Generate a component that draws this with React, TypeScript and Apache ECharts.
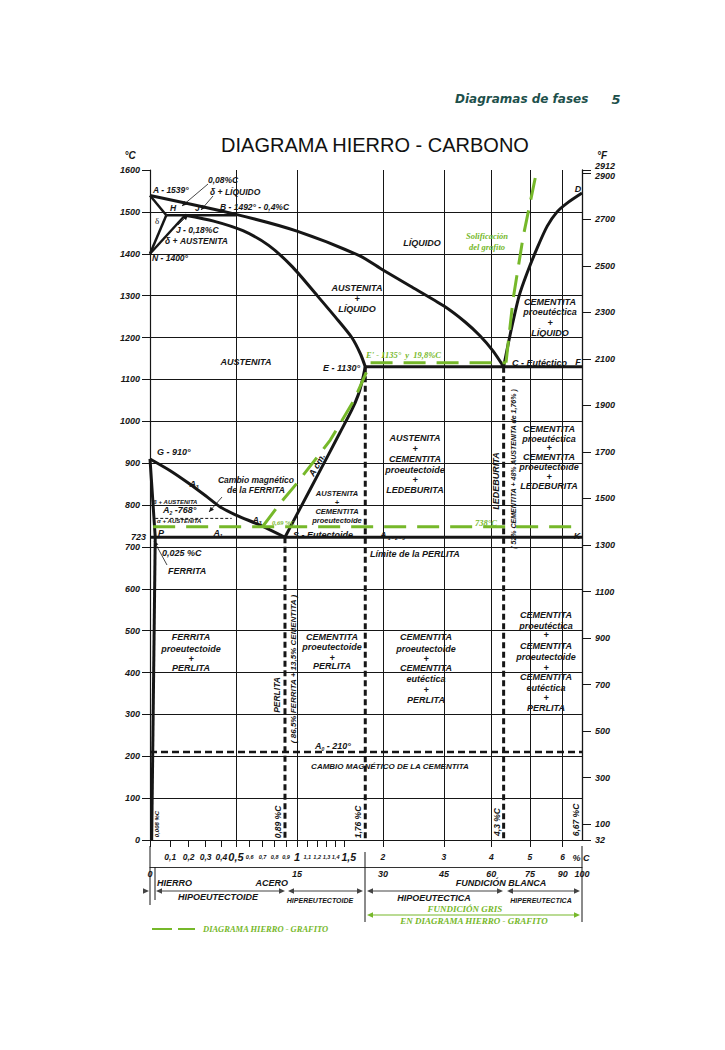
import React, { useEffect, useRef } from "react";
import * as echarts from "echarts";

const SANS = '"Liberation Sans", Arial, Helvetica, sans-serif';
const SERIF = '"Liberation Serif", "Times New Roman", serif';
const DEJAVU = '"DejaVu Sans", Verdana, sans-serif';
const GREEN = "#76b82a";
const INK = "#161616";
const TEAL = "#1d504b";

// ---------------- axis ticks ----------------
const C_MAX = 6.67; // % carbon at right border (cementite)
const fahrenheitTicks = [32, 100, 300, 500, 700, 900, 1100, 1300, 1500, 1700, 1900, 2100, 2300, 2500, 2700, 2900, 2912];
const carbonTickLabels = [0.1, 0.2, 0.3, 0.4, 0.5, 0.6, 0.7, 0.8, 0.9, 1, 1.1, 1.2, 1.3, 1.4, 1.5, 2, 3, 4, 5, 6];
const largeCarbonLabels = [0.5, 1];
const mediumCarbonLabels = [1.5];
const tinyCarbonLabels = [0.6, 0.7, 0.8, 0.9, 1.1, 1.2, 1.3, 1.4];
const carbonGridLines = [0.5, 1, 2, 3, 4, 5, 6];
const cementitePct = [0, 15, 30, 45, 60, 75, 90, 100];

// ---------------- phase boundaries: [% C, °C] ----------------
const liquidusABC = [[0, 1539], [0.5, 1494], [1.0, 1454], [1.69, 1395], [2.0, 1361], [2.41, 1323], [3.0, 1275], [3.42, 1237], [3.74, 1204], [4.04, 1168], [4.3, 1130]];
const solidusJE = [[0.18, 1492], [0.35, 1478], [0.55, 1455], [0.75, 1420], [0.96, 1368], [1.2, 1300], [1.4, 1248], [1.59, 1200], [1.7, 1160], [1.76, 1130]];
const lineAH = [[0, 1539], [0.08, 1492]];
const lineHN = [[0.08, 1492], [0, 1400]];
const lineNJ = [[0, 1400], [0.18, 1492]];
const peritecticHJB = [[0.08, 1492], [0.5, 1492]];
const lineGS = [[0, 910], [0.1, 882], [0.2, 852], [0.3, 822], [0.39, 796], [0.5, 776], [0.68, 752], [0.89, 723]];
const lineGP = [[0, 910], [0.012, 820], [0.025, 723]];
const linePQ = [[0.025, 723], [0.008, 0]];
const eutectoidPSK = [[0, 723], [6.67, 723]];
const eutecticECF = [[1.76, 1130], [6.67, 1130]];
const lineSE = [[0.89, 723], [1.03, 792], [1.23, 882], [1.45, 973], [1.59, 1027], [1.67, 1063], [1.72, 1096], [1.76, 1130]];
const lineCD = [[4.3, 1130], [4.41, 1182], [4.52, 1230], [4.7, 1299], [4.92, 1354], [5.21, 1414], [5.51, 1466], [5.82, 1500], [6.15, 1521], [6.67, 1545]];
const dashed089 = [[0.89, 723], [0.89, 0]];
const dashed176 = [[1.76, 1130], [1.76, 0]];
const dashed43 = [[4.3, 1130], [4.3, 0]];
const cementiteA0 = [[0, 210], [6.67, 210]];
const ferriteA2 = [[0.025, 768], [0.47, 768]];

// iron - graphite (green)
const graphiteEutectoid = [[0.015, 748], [6.45, 748]];
const graphiteSE = [[0.7, 748], [0.85, 805], [1.0, 852], [1.34, 955], [1.62, 1051], [1.83, 1140]];
const graphiteEutectic = [[1.83, 1140], [4.36, 1140]];
const graphiteCD = [[4.36, 1140], [4.54, 1290], [4.81, 1440], [5.2, 1600]];

const X_MAX = 1 + C_MAX;
const safeX = (v: number) => Math.min(Math.max(v, 1), X_MAX - 1e-6);
const toXY = (pts: number[][]) => pts.map(([c, t]) => [1 + c, t]);

function line(name: string, pts: number[][], o: any = {}) {
  return {
    type: "line",
    name,
    data: toXY(pts),
    xAxisIndex: 0,
    yAxisIndex: 0,
    symbol: "none",
    showSymbol: false,
    silent: true,
    clip: false,
    smooth: o.smooth || false,
    lineStyle: { color: o.color || INK, width: o.width || 3, type: o.dash || "solid", cap: "butt", join: "round" },
    z: o.z || 3,
  };
}

function T(x: number, y: number, text: string, o: any = {}) {
  return {
    type: "text",
    x,
    y,
    rotation: o.rot || 0,
    silent: true,
    z: 60,
    style: {
      text,
      fill: o.color || INK,
      fontSize: o.size || 9,
      fontFamily: o.family || SANS,
      fontWeight: o.weight || "bold",
      fontStyle: o.fstyle || "italic",
      align: o.align || "center",
      verticalAlign: "middle",
      rich: o.rich,
    },
  };
}

function stack(x: number, items: [string, number, number?][]) {
  return items.map(([s, y, size]) => T(x, y, s, { size: size || 9 }));
}

function subRich(size = 9, sub = 6) {
  const base = { fontSize: size, fontFamily: SANS, fontWeight: "bold", fontStyle: "italic", fill: INK };
  return { a: base, s: { ...base, fontSize: sub, padding: [5, 0, 0, 0] } };
}

function arrowHead(x1: number, y1: number, x2: number, y2: number, size = 5, color = INK) {
  const a = Math.atan2(y2 - y1, x2 - x1);
  const bx = x2 - size * Math.cos(a);
  const by = y2 - size * Math.sin(a);
  const w = size * 0.45;
  return {
    type: "polygon",
    silent: true,
    z: 60,
    shape: { points: [[x2, y2], [bx + w * Math.sin(a), by - w * Math.cos(a)], [bx - w * Math.sin(a), by + w * Math.cos(a)]] },
    style: { fill: color },
  };
}

function leader(x1: number, y1: number, x2: number, y2: number, color = INK) {
  return [
    { type: "line", silent: true, z: 60, shape: { x1, y1, x2, y2 }, style: { stroke: color, lineWidth: 0.8 } },
    arrowHead(x1, y1, x2, y2, 5, color),
  ];
}

function doubleArrow(x1: number, x2: number, y: number, color = "#444") {
  return [
    { type: "line", silent: true, z: 60, shape: { x1: x1 + 2, y1: y, x2: x2 - 2, y2: y }, style: { stroke: color, lineWidth: 1.2 } },
    arrowHead(x2, y, x1, y, 6, color),
    arrowHead(x1, y, x2, y, 6, color),
  ];
}

function vline(x: number, y1: number, y2: number, color = INK, w = 1) {
  return { type: "line", silent: true, z: 60, shape: { x1: x, y1, x2: x, y2 }, style: { stroke: color, lineWidth: w } };
}

function buildGraphic() {
  const g: any[] = [];
  // header + title
  g.push(T(455, 99, "Diagramas de fases", { size: 12, family: DEJAVU, color: TEAL, align: "left" }));
  g.push(T(616, 99, "5", { size: 13, family: DEJAVU, color: TEAL }));
  g.push(T(375, 145, "DIAGRAMA HIERRO - CARBONO", { size: 20, weight: "normal", fstyle: "normal", color: "#111" }));
  g.push(T(130, 155, "°C", { size: 10 }));
  g.push(T(602, 155, "°F", { size: 10 }));

  // delta region
  g.push(T(153, 190, "A - 1539°", { size: 8.5, align: "left" }));
  g.push(T(208, 180, "0,08%C", { size: 8.5, align: "left" }));
  g.push(T(210, 192, "δ + LÍQUIDO", { size: 8.5, align: "left" }));
  g.push(T(170, 208, "H", { size: 8.5, align: "left" }));
  g.push(T(195, 208, "J", { size: 8.5, align: "left" }));
  g.push(T(220, 207, "B - 1492° - 0,4%C", { size: 8.5, align: "left" }));
  g.push(T(155, 221, "δ", { size: 9, align: "left", family: SERIF, weight: "normal", fstyle: "normal" }));
  g.push(T(176, 230, "J - 0,18%C", { size: 8.5, align: "left" }));
  g.push(T(165, 241, "δ + AUSTENITA", { size: 8.5, align: "left" }));
  g.push(T(152, 258, "N - 1400°", { size: 8.5, align: "left" }));
  g.push(...leader(208, 184, 182, 206));
  g.push(...leader(213, 196, 201, 210));
  g.push(...leader(178, 225, 188, 215));

  // upper regions
  g.push(T(422, 243, "LÍQUIDO"));
  g.push(T(487, 236, "Solificación", { size: 8.5, family: SERIF, color: GREEN }));
  g.push(T(487, 247, "del grafito", { size: 8.5, family: SERIF, color: GREEN }));
  g.push(T(578, 189, "D"));
  g.push(...stack(357, [["AUSTENITA", 288], ["+", 299], ["LÍQUIDO", 309]]));
  g.push(...stack(550, [["CEMENTITA", 302], ["proeutéctica", 312], ["+", 323], ["LÍQUIDO", 333]]));
  g.push(T(360, 368, "E - 1130°", { align: "right" }));
  g.push(T(366, 355, "E' - 1135°  y  19,8%C", { size: 8.5, family: SERIF, color: GREEN, align: "left" }));
  g.push(T(512, 363, "C - Eutéctico", { align: "left" }));
  g.push(T(578, 362, "F"));
  g.push(T(246, 362, "AUSTENITA"));

  // austenite / ferrite region
  g.push(T(157, 452, "G - 910°", { align: "left" }));
  g.push(T(194, 484, "{a|A}{s|3}", { rich: subRich(9, 5) }));
  g.push(T(256, 480, "Cambio magnético", { size: 8.5 }));
  g.push(T(256, 490, "de la FERRITA", { size: 8.5 }));
  g.push(...leader(222, 497, 209, 512));
  g.push(T(153, 502, "β + AUSTENITA", { size: 6, align: "left" }));
  g.push(T(163, 510, "{a|A}{s|2}{a| -768°}", { align: "left", rich: subRich(9, 5) }));
  g.push(T(157, 521, "α + AUSTENITA", { size: 6, align: "left" }));
  g.push(T(161, 533, "P"));
  g.push(T(218, 533, "{a|A}{s|1}", { rich: subRich(9, 5) }));
  g.push(T(257, 520, "{a|A}{s|3}", { rich: subRich(9, 5) }));
  g.push(T(272, 522, "0,69 %C", { size: 6.5, family: SERIF, color: GREEN, align: "left" }));
  g.push(...stack(337, [["AUSTENITA", 493, 7.5], ["+", 502, 7.5], ["CEMENTITA", 511, 7.5], ["proeutectoide", 520, 7.5]]));
  g.push(T(317, 465, "A cm.", { rot: 1.07 }));
  g.push(T(293, 535, "S - Eutectoide", { align: "left" }));
  g.push(T(380, 535, "{a|A}{s| 1 - 2 - 3}", { align: "left", rich: subRich(9, 5) }));
  g.push(T(370, 554, "Límite de la PERLITA", { align: "left" }));
  g.push(...stack(415, [["AUSTENITA", 438], ["+", 449], ["CEMENTITA", 459], ["proeutectoide", 470], ["+", 480], ["LEDEBURITA", 490]]));
  g.push(T(496, 481, "LEDEBURITA", { rot: Math.PI / 2 }));
  g.push(T(513, 469, "( 52% CEMENTITA + 48% AUSTENITA de 1,76% )", { rot: Math.PI / 2, size: 7 }));
  g.push(...stack(549, [["CEMENTITA", 429], ["proeutéctica", 439], ["+", 448], ["CEMENTITA", 457], ["proeutectoide", 467], ["+", 477], ["LEDEBURITA", 486]]));
  g.push(T(475, 523, "738°C", { size: 8.5, family: SERIF, color: GREEN, align: "left" }));
  g.push(T(577, 536, "K"));
  g.push(T(146, 537, "723", { align: "right" }));
  g.push(T(162, 553, "0,025 %C", { align: "left" }));
  g.push(T(168, 571, "FERRITA", { align: "left" }));
  g.push(...leader(167, 565, 154, 541));

  // lower regions
  g.push(...stack(191, [["FERRITA", 637], ["proeutectoide", 649], ["+", 659], ["PERLITA", 668]]));
  g.push(T(277, 695, "PERLITA", { rot: Math.PI / 2, size: 8.5 }));
  g.push(T(293, 669, "( 86,5% FERRITA + 13,5% CEMENTITA )", { rot: Math.PI / 2, size: 8 }));
  g.push(...stack(332, [["CEMENTITA", 637], ["proeutectoide", 647], ["+", 658], ["PERLITA", 666]]));
  g.push(T(333, 746, "{a|A}{s|0}{a| - 210°}", { rich: subRich(9, 5) }));
  g.push(T(390, 766, "CAMBIO MAGNÉTICO DE LA CEMENTITA", { size: 8 }));
  g.push(...stack(426, [["CEMENTITA", 637], ["proeutectoide", 649], ["+", 659], ["CEMENTITA", 668], ["eutéctica", 679], ["+", 690], ["PERLITA", 700]]));
  g.push(...stack(546, [["CEMENTITA", 615], ["proeutéctica", 626], ["+", 635], ["CEMENTITA", 646], ["proeutectoide", 657], ["+", 668], ["CEMENTITA", 677], ["eutéctica", 688], ["+", 698], ["PERLITA", 708]]));
  g.push(T(157, 824, "0,008 %C", { rot: Math.PI / 2, size: 6 }));
  g.push(T(278, 822, "0,89 %C", { rot: Math.PI / 2, size: 8.5 }));
  g.push(T(358, 822, "1,76 %C", { rot: Math.PI / 2, size: 8.5 }));
  g.push(T(497, 822, "4,3 %C", { rot: Math.PI / 2, size: 8.5 }));
  g.push(T(576, 820, "6,67 %C", { rot: Math.PI / 2, size: 8.5 }));

  // bottom scale annotations
  g.push(T(581, 858, "% C"));
  g.push(vline(150, 846, 905));
  g.push(vline(155, 867, 900));
  g.push(vline(365, 852, 922));
  g.push(vline(582, 846, 922));
  g.push(arrowHead(140, 891, 149, 891, 6, "#444"));
  g.push(...doubleArrow(156, 285, 891));
  g.push(...doubleArrow(288, 363, 891));
  g.push(...doubleArrow(367, 503, 891));
  g.push(...doubleArrow(507, 580, 891));
  g.push(...doubleArrow(367, 580, 915, GREEN));
  g.push(T(157, 883, "HIERRO", { align: "left" }));
  g.push(T(288, 883, "ACERO", { align: "right" }));
  g.push(T(218, 897, "HIPOEUTECTOIDE"));
  g.push(T(320, 900, "HIPEREUTECTOIDE", { size: 7 }));
  g.push(T(501, 883, "FUNDICIÓN BLANCA"));
  g.push(T(434, 898, "HIPOEUTECTICA"));
  g.push(T(541, 900, "HIPEREUTECTICA", { size: 7 }));
  g.push(T(465, 909, "FUNDICIÓN GRIS", { family: SERIF, color: GREEN }));
  g.push(T(474, 921, "EN DIAGRAMA HIERRO - GRAFITO", { family: SERIF, color: GREEN }));
  // legend
  g.push({ type: "line", silent: true, z: 60, shape: { x1: 152, y1: 929, x2: 172, y2: 929 }, style: { stroke: GREEN, lineWidth: 2 } });
  g.push({ type: "line", silent: true, z: 60, shape: { x1: 178, y1: 929, x2: 195, y2: 929 }, style: { stroke: GREEN, lineWidth: 2 } });
  g.push(T(203, 929, "DIAGRAMA HIERRO - GRAFITO", { size: 8.5, family: SERIF, color: GREEN, align: "left" }));
  return g;
}

function labelStyle(size: number) {
  return { fontSize: size, fontFamily: SANS, fontWeight: "bold", fontStyle: "italic", color: INK };
}

function buildOption() {
  const fmtC = (v: number) => {
    const c = Math.round((v - 1) * 100) / 100;
    const s = String(c).replace(".", ",");
    const k = largeCarbonLabels.includes(c)
      ? "b"
      : mediumCarbonLabels.includes(c)
      ? "h"
      : tinyCarbonLabels.includes(c)
      ? "t"
      : "m";
    return `{${k}|${s}}`;
  };
  return {
    animation: false,
    backgroundColor: "#ffffff",
    textStyle: { fontFamily: SANS },
    grid: { left: 150, right: 143, top: 170, bottom: 210, containLabel: false },
    xAxis: [
      {
        type: "log",
        logBase: 10,
        min: 1,
        max: X_MAX,
        position: "bottom",
        axisLine: { show: true, onZero: false, lineStyle: { color: INK, width: 1.2 } },
        axisTick: { show: true, inside: false, length: 7, customValues: [1, ...carbonTickLabels.map((c) => safeX(1 + c))], lineStyle: { color: INK, width: 1 } },
        axisLabel: {
          show: true,
          customValues: carbonTickLabels.map((c) => safeX(1 + c)),
          margin: 17,
          verticalAlign: "middle",
          formatter: fmtC,
          rich: {
            b: labelStyle(11),
            h: { ...labelStyle(10.5), padding: [0, 0, 0, 9] },
            m: labelStyle(8.5),
            t: labelStyle(5.5),
          },
        },
        splitLine: { show: false },
        minorTick: { show: false },
        minorSplitLine: { show: false },
      },
      {
        type: "log",
        logBase: 10,
        min: 1,
        max: X_MAX,
        position: "bottom",
        axisLine: { show: false, onZero: false },
        axisTick: { show: false, customValues: carbonGridLines.map((c) => safeX(1 + c)) },
        axisLabel: { show: false },
        splitLine: { show: true, lineStyle: { color: INK, width: 1 } },
      },
      {
        type: "log",
        logBase: 10,
        min: 1,
        max: X_MAX,
        position: "bottom",
        offset: 27,
        axisLine: { show: true, onZero: false, lineStyle: { color: "#333", width: 1 } },
        axisTick: { show: false },
        axisLabel: {
          show: true,
          customValues: cementitePct.map((p) => safeX(1 + (p / 100) * C_MAX)),
          margin: 7,
          verticalAlign: "middle",
          ...labelStyle(9),
          formatter: (v: number) => String(Math.round(((v - 1) / C_MAX) * 100)),
        },
        splitLine: { show: false },
      },
    ],
    yAxis: [
      {
        type: "value",
        min: 0,
        max: 1600,
        interval: 100,
        position: "left",
        axisLine: { show: true, onZero: false, lineStyle: { color: INK, width: 1.2 } },
        axisTick: { show: true, length: 8, inside: false, lineStyle: { color: INK, width: 1 } },
        axisLabel: { margin: 10, ...labelStyle(9), formatter: (v: number) => String(v) },
        splitLine: { show: true, showMaxLine: false, lineStyle: { color: INK, width: 1 } },
      },
      {
        type: "value",
        min: 32,
        max: 2912,
        position: "right",
        axisLine: { show: true, onZero: false, lineStyle: { color: INK, width: 1.3 } },
        axisTick: { show: true, length: 9, inside: false, customValues: fahrenheitTicks, lineStyle: { color: INK, width: 1 } },
        axisLabel: {
          customValues: fahrenheitTicks,
          margin: 13,
          ...labelStyle(9),
          formatter: (v: number) => (v === 2912 ? `{u|${v}}` : v === 2900 ? `{d|${v}}` : `${v}`),
          rich: { u: { ...labelStyle(9), padding: [0, 0, 8, 0] }, d: { ...labelStyle(9), padding: [6, 0, 0, 0] } },
        },
        splitLine: { show: false },
      },
    ],
    series: [
      line("Liquidus A-B-C", liquidusABC, { smooth: 0.25 }),
      line("Solidus J-E", solidusJE, { smooth: 0.25 }),
      line("A-H", lineAH, { width: 2.5 }),
      line("H-N", lineHN, { width: 2.5 }),
      line("N-J", lineNJ, { width: 2.5 }),
      line("H-J-B", peritecticHJB, { width: 2.5 }),
      line("G-S (A3)", lineGS, { smooth: 0.25 }),
      line("G-P", lineGP, { smooth: 0.2 }),
      line("P-Q", linePQ, { width: 3 }),
      line("P-S-K", eutectoidPSK, { width: 3 }),
      line("E-C-F", eutecticECF, { width: 3 }),
      line("S-E (Acm)", lineSE, { smooth: 0.25 }),
      line("C-D", lineCD, { smooth: 0.25 }),
      line("0.89 %C", dashed089, { dash: [6, 3.5], width: 3 }),
      line("1.76 %C", dashed176, { dash: [6, 3.5], width: 3 }),
      line("4.3 %C", dashed43, { dash: [6, 3.5], width: 3 }),
      line("A0 210", cementiteA0, { dash: [7, 4], width: 2.5 }),
      line("A2 768", ferriteA2, { dash: [3, 2], width: 1 }),
      line("Grafito eutectoide", graphiteEutectoid, { color: GREEN, dash: [22, 11], width: 3, z: 4 }),
      line("Grafito Acm", graphiteSE, { color: GREEN, dash: [22, 11], width: 3, z: 4 }),
      line("Grafito eutectico", graphiteEutectic, { color: GREEN, dash: [22, 11], width: 3, z: 4 }),
      line("Solidificacion del grafito", graphiteCD, { color: GREEN, dash: [22, 11], width: 3, z: 4 }),
    ],
    graphic: buildGraphic(),
  };
}

export default function App() {
  const ref = useRef<HTMLDivElement>(null);
  useEffect(() => {
    document.body.style.margin = "0";
    const chart = echarts.init(ref.current as HTMLDivElement, null, { renderer: "svg", width: 725, height: 1050 });
    chart.setOption(buildOption() as any);
    return () => chart.dispose();
  }, []);
  return <div ref={ref} style={{ width: 725, height: 1050, background: "#fff" }} />;
}
